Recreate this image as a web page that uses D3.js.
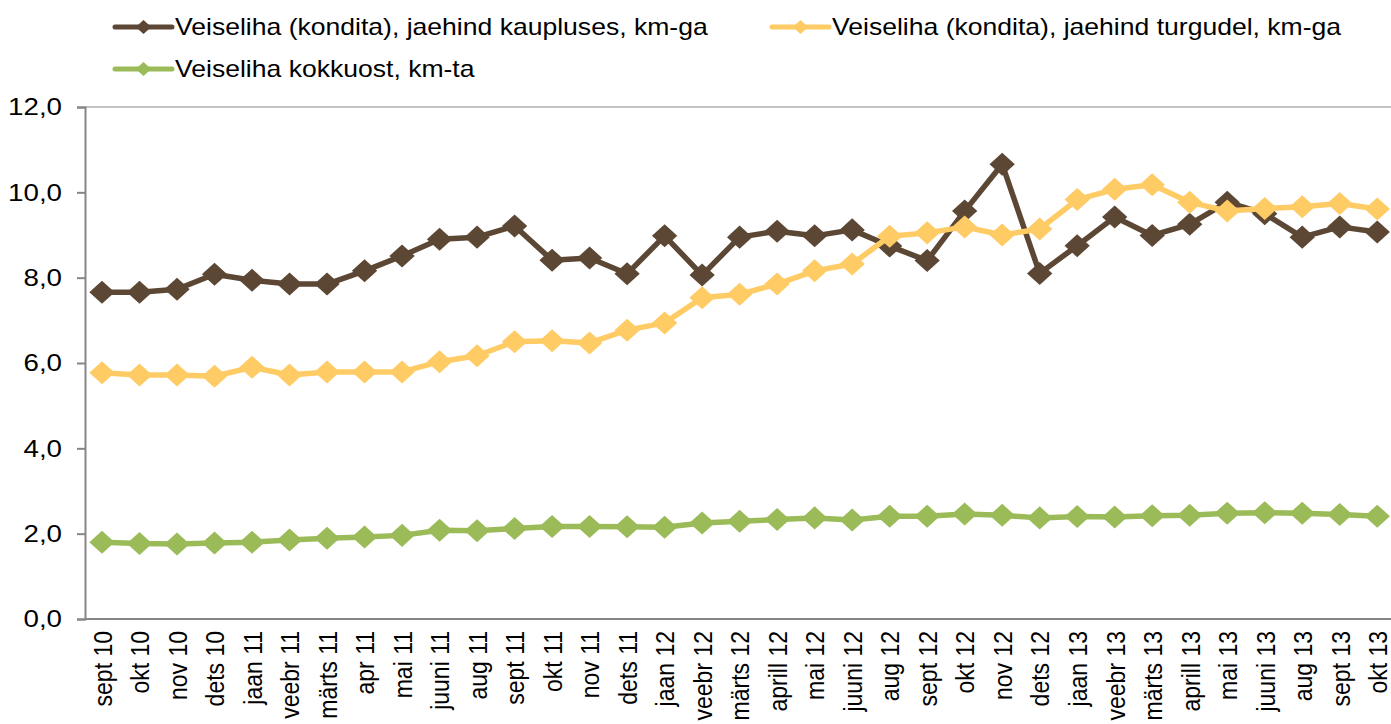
<!DOCTYPE html>
<html>
<head>
<meta charset="utf-8">
<script src="https://cdn.jsdelivr.net/npm/d3@7"></script>
<style>
  html, body { margin: 0; padding: 0; background: #ffffff; }
  svg { display: block; font-family: Arial, "Liberation Sans", sans-serif; }
</style>
</head>
<body>
<svg id="chart" width="1391" height="724"></svg>
<script>
// Month labels (July is absent from the series)
const months = [
  "sept 10", "okt 10", "nov 10", "dets 10", "jaan 11", "veebr 11", "märts 11",
  "apr 11", "mai 11", "juuni 11", "aug 11", "sept 11", "okt 11", "nov 11",
  "dets 11", "jaan 12", "veebr 12", "märts 12", "aprill 12", "mai 12", "juuni 12",
  "aug 12", "sept 12", "okt 12", "nov 12", "dets 12", "jaan 13", "veebr 13",
  "märts 13", "aprill 13", "mai 13", "juuni 13", "aug 13", "sept 13", "okt 13"
];

// Boneless beef, retail price in shops, incl. VAT (€/kg)
const retailShops = [
  7.66, 7.66, 7.73, 8.08, 7.94, 7.85, 7.85, 8.16, 8.51, 8.90, 8.95, 9.21,
  8.41, 8.46, 8.09, 8.98, 8.06, 8.95, 9.09, 8.98, 9.12, 8.74, 8.40, 9.56,
  10.66, 8.10, 8.75, 9.42, 8.99, 9.25, 9.77, 9.50, 8.95, 9.19, 9.07
];

// Boneless beef, retail price at markets, incl. VAT (€/kg)
const retailMarkets = [
  5.77, 5.72, 5.72, 5.69, 5.90, 5.72, 5.79, 5.79, 5.79, 6.03, 6.17, 6.50,
  6.52, 6.47, 6.77, 6.94, 7.53, 7.61, 7.85, 8.16, 8.32, 8.97, 9.05, 9.19,
  9.00, 9.14, 9.83, 10.07, 10.18, 9.77, 9.56, 9.62, 9.66, 9.74, 9.61
];

// Beef purchase price, excl. VAT (€/kg)
const purchase = [
  1.80, 1.77, 1.76, 1.78, 1.80, 1.85, 1.89, 1.92, 1.96, 2.08, 2.07, 2.12,
  2.17, 2.17, 2.16, 2.15, 2.25, 2.29, 2.33, 2.37, 2.32, 2.41, 2.41, 2.46,
  2.43, 2.37, 2.40, 2.39, 2.42, 2.43, 2.48, 2.49, 2.48, 2.45, 2.41
];

const yTicks = [0, 2, 4, 6, 8, 10, 12];

const series = [
  { name: "Veiseliha (kondita), jaehind kaupluses, km-ga", values: retailShops, color: "#5c4735" },
  { name: "Veiseliha (kondita), jaehind turgudel, km-ga", values: retailMarkets, color: "#fecb65" },
  { name: "Veiseliha kokkuost, km-ta", values: purchase, color: "#9bbb59" }
];

const svg = d3.select("#chart");
const fmt = v => d3.format(".1f")(v).replace(".", ",");
const textStretch = 1.155; // the lettering is set slightly wide

const plot = { left: 85, right: 1396, top: 107, bottom: 619 };

const x = d3.scalePoint()
  .domain(months)
  .range([plot.left - 1.75, plot.right])
  .padding(0.5);

const y = d3.scaleLinear()
  .domain([0, 12])
  .range([plot.bottom, plot.top]);

// Top boundary line at 12,0
svg.append("line")
  .attr("x1", plot.left).attr("x2", 1391)
  .attr("y1", y(12)).attr("y2", y(12))
  .attr("stroke", "#c4c4c4").attr("stroke-width", 2);

// Y axis
const yAxis = svg.append("g")
  .attr("transform", `translate(${plot.left},0)`)
  .call(d3.axisLeft(y).tickValues(yTicks).tickFormat(fmt).tickSize(8).tickPadding(14));
yAxis.select(".domain").attr("stroke", "#868686").attr("stroke-width", 2);
yAxis.selectAll(".tick line").attr("stroke", "#868686").attr("stroke-width", 2);
yAxis.selectAll(".tick text")
  .attr("fill", "#000").style("font-size", "24px")
  .style("font-family", "Arial, 'Liberation Sans', sans-serif")
  .attr("x", 0)
  .attr("transform", `translate(-23,0) scale(${textStretch},1)`);

// X axis
const xAxis = svg.append("g")
  .attr("transform", `translate(0,${plot.bottom})`)
  .call(d3.axisBottom(x).tickSize(0).tickPadding(0));
xAxis.select(".domain")
  .attr("d", `M${plot.left},0H1391`)
  .attr("stroke", "#868686").attr("stroke-width", 2);
xAxis.selectAll(".tick text")
  .attr("fill", "#000")
  .style("font-size", "23px")
  .style("font-family", "Arial, 'Liberation Sans', sans-serif")
  .attr("text-anchor", "end")
  .attr("dy", "0.35em")
  .attr("transform", `translate(0,12) scale(${textStretch},1) rotate(-90)`)
  .attr("x", 0).attr("y", 0);

// Series lines and diamond markers
const line = d3.line()
  .x((d, i) => x(months[i]))
  .y(d => y(d));

const diamond = d3.symbol().type(d3.symbolDiamond2).size(2 * 13 * 13);

series.forEach(s => {
  const g = svg.append("g");
  g.append("path")
    .datum(s.values)
    .attr("d", line)
    .attr("fill", "none")
    .attr("stroke", s.color)
    .attr("stroke-width", 5.5)
    .attr("stroke-linejoin", "round");
  g.selectAll("path.marker")
    .data(s.values)
    .join("path")
    .attr("class", "marker")
    .attr("d", diamond)
    .attr("transform", (d, i) => `translate(${x(months[i])},${y(d)}) scale(1.1,1)`)
    .attr("fill", s.color);
});

// Legend
const legendPos = [
  { x: 115, y: 27 },
  { x: 772, y: 27 },
  { x: 115, y: 69 }
];
const legendDiamond = d3.symbol().type(d3.symbolDiamond2).size(2 * 8 * 8);
series.forEach((s, i) => {
  const p = legendPos[i];
  const g = svg.append("g").attr("transform", `translate(${p.x},${p.y})`);
  g.append("line")
    .attr("x1", 0).attr("x2", 57)
    .attr("stroke", s.color).attr("stroke-width", 5)
    .attr("stroke-linecap", "round");
  g.append("path").attr("d", legendDiamond)
    .attr("transform", "translate(28.5,0) scale(1.1,1)")
    .attr("fill", s.color);
  g.append("text")
    .attr("dy", "0.35em")
    .attr("transform", `translate(60,0) scale(${textStretch},1)`)
    .style("font-size", "23px")
    .attr("fill", "#000")
    .text(s.name);
});
</script>
</body>
</html>
